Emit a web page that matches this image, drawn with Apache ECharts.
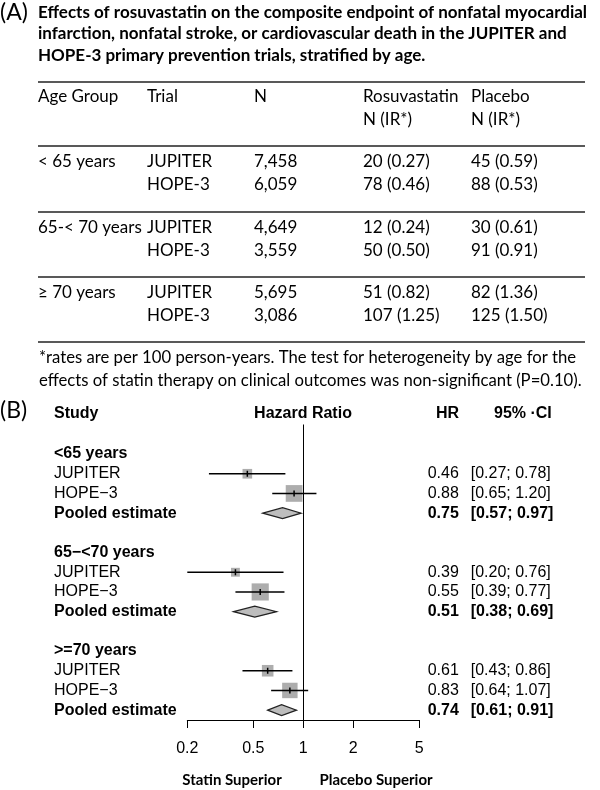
<!DOCTYPE html>
<html>
<head>
<meta charset="utf-8">
<script src="https://cdn.jsdelivr.net/npm/echarts@6/dist/echarts.min.js"></script>
<style>html,body{margin:0;padding:0;background:#fff}#c{width:600px;height:790px}</style>
</head>
<body>
<div id="c"></div>
<script>
// ---------- Panel A data ----------
const titleLines = [
  'Effects of rosuvastatin on the composite endpoint of nonfatal myocardial',
  'infarction, nonfatal stroke, or cardiovascular death in the JUPITER and',
  'HOPE-3 primary prevention trials, stratified by age.'
];
const tableHeader1 = ['Age Group', 'Trial', 'N', 'Rosuvastatin', 'Placebo'];
const tableHeader2 = ['', '', '', 'N (IR*)', 'N (IR*)'];
const ageGroups = ['< 65 years', '65-< 70 years', '\u2265 70 years'];
const trials = ['JUPITER', 'HOPE-3'];
const nValues = ['7,458', '6,059', '4,649', '3,559', '5,695', '3,086'];
const rosuEvents = ['20 (0.27)', '78 (0.46)', '12 (0.24)', '50 (0.50)', '51 (0.82)', '107 (1.25)'];
const placeboEvents = ['45 (0.59)', '88 (0.53)', '30 (0.61)', '91 (0.91)', '82 (1.36)', '125 (1.50)'];
const footnote = [
  '*rates are per 100 person-years. The test for heterogeneity by age for the',
  'effects of statin therapy on clinical outcomes was non-significant (P=0.10).'
];

// ---------- Panel B data ----------
const forestGroups = ['<65 years', '65\u2212<70 years', '>=70 years'];
const studies = ['JUPITER', 'HOPE\u22123'];
const studyHR = [0.46, 0.88, 0.39, 0.55, 0.61, 0.83];
const studyLo = [0.27, 0.65, 0.20, 0.39, 0.43, 0.64];
const studyHi = [0.78, 1.20, 0.76, 0.77, 0.86, 1.07];
const studyWeightPct = [25, 75, 21, 79, 36, 64];
const pooledHR = [0.75, 0.51, 0.74];
const pooledLo = [0.57, 0.38, 0.61];
const pooledHi = [0.97, 0.69, 0.91];
const xTicks = [0.2, 0.5, 1, 2, 5];
const xTickLabels = ['0.2', '0.5', '1', '2', '5'];

// ---------- build ----------
const L10 = Math.log10;
const fmt2 = v => v.toFixed(2);

const rows = [];
rows.push({label: '', type: 'blank', right: ''});
forestGroups.forEach((g, gi) => {
  if (gi > 0) rows.push({label: '', type: 'blank', right: ''});
  rows.push({label: g, type: 'group', right: ''});
  studies.forEach((s, si) => {
    const k = gi * 2 + si;
    rows.push({label: s, type: 'study', k: k,
      right: '{h|' + fmt2(studyHR[k]) + '}{c|[' + fmt2(studyLo[k]) + '; ' + fmt2(studyHi[k]) + ']}'});
  });
  rows.push({label: 'Pooled estimate', type: 'pooled', k: gi,
    right: '{hb|' + fmt2(pooledHR[gi]) + '}{cb|[' + fmt2(pooledLo[gi]) + '; ' + fmt2(pooledHi[gi]) + ']}'});
});
const rowKeys = rows.map((r, i) => 'r' + i);

const studyData = [];
const pooledData = [];
rows.forEach((r, i) => {
  if (r.type === 'study') studyData.push([L10(studyHR[r.k]), i, L10(studyLo[r.k]), L10(studyHi[r.k]), studyWeightPct[r.k]]);
  if (r.type === 'pooled') pooledData.push([L10(pooledHR[r.k]), i, L10(pooledLo[r.k]), L10(pooledHi[r.k])]);
});

const FA = '"Lato", "Open Sans", sans-serif';       // Calibri-like
const FB = '"Liberation Sans", Arial, sans-serif';   // Arial-like

const graphics = [];
function txt(x, y, text, font, align) {
  graphics.push({type: 'text', x: x, y: y, silent: true,
    style: {text: text, font: font, fill: '#000', textAlign: align || 'left', textVerticalAlign: 'middle'}});
}
function rule(y) {
  graphics.push({type: 'line', silent: true, shape: {x1: 38, y1: y, x2: 585, y2: y},
    style: {stroke: '#222', lineWidth: 1.5}});
}

// Panel A
const TF = '17px ' + FA;
txt(0, 13, '(A)', '23px ' + FA);
titleLines.forEach((t, i) => txt(38, 12.5 + i * 21.5, t, 'bold 17px ' + FA));
rule(82);
const colX = [38, 147, 254, 363, 471];
tableHeader1.forEach((t, i) => txt(colX[i], 97, t, TF));
tableHeader2.forEach((t, i) => { if (t) txt(colX[i], 120, t, TF); });
rule(146);
const groupTop = [162, 228, 293];
const groupRule = [212, 277, 342];
ageGroups.forEach((g, gi) => {
  txt(colX[0], groupTop[gi], g, TF);
  trials.forEach((t, ti) => {
    const k = gi * 2 + ti;
    const y = groupTop[gi] + ti * 23;
    txt(colX[1], y, t, TF);
    txt(colX[2], y, nValues[k], TF);
    txt(colX[3], y, rosuEvents[k], TF);
    txt(colX[4], y, placeboEvents[k], TF);
  });
  rule(groupRule[gi]);
});
footnote.forEach((t, i) => txt(39, 358 + i * 22.5, t, '16.7px ' + FA));

// Panel B headers
txt(0, 411, '(B)', '23px ' + FA);
txt(54, 414, 'Study', 'bold 16px ' + FB);
txt(303, 414, 'Hazard Ratio', 'bold 16px ' + FB, 'center');
txt(436, 414, 'HR', 'bold 16px ' + FB);
txt(494, 414, '95% \u00b7CI', 'bold 16px ' + FB);
txt(232, 780, 'Statin Superior', 'bold 15px ' + FA, 'center');
txt(376, 780, 'Placebo Superior', 'bold 15px ' + FA, 'center');

const chart = echarts.init(document.getElementById('c'), null, {renderer: 'canvas'});
chart.setOption({
  animation: false,
  backgroundColor: '#fff',
  grid: {left: 187.3, right: 600 - 419.3, top: 424.5, bottom: 70, containLabel: false},
  xAxis: {
    type: 'value', min: L10(0.2), max: L10(5),
    splitLine: {show: false},
    axisLine: {show: true, onZero: false, lineStyle: {color: '#000', width: 1}},
    axisTick: {show: true, length: 8, lineStyle: {color: '#000', width: 1}, customValues: xTicks.map(L10)},
    axisLabel: {show: true, margin: 21, color: '#000', fontSize: 16, fontFamily: FB,
      customValues: xTicks.map(L10),
      formatter: v => { const i = xTicks.findIndex(t => Math.abs(L10(t) - v) < 1e-6); return i >= 0 ? xTickLabels[i] : ''; }}
  },
  yAxis: [{
    type: 'category', data: rowKeys, inverse: true, boundaryGap: true,
    axisLine: {show: false}, axisTick: {show: false}, splitLine: {show: false},
    axisLabel: {show: true, interval: 0, margin: 187.3 - 54, align: 'left', fontSize: 16, fontFamily: FB, color: '#000',
      formatter: (v, i) => { const r = rows[i]; if (!r || !r.label) return ''; return (r.type === 'group' || r.type === 'pooled') ? '{b|' + r.label + '}' : '{n|' + r.label + '}'; },
      rich: {b: {fontWeight: 'bold', fontSize: 16, fontFamily: FB, color: '#000'}, n: {fontSize: 16, fontFamily: FB, color: '#000'}}}
  }, {
    type: 'category', data: rowKeys, inverse: true, boundaryGap: true, position: 'right',
    axisLine: {show: false}, axisTick: {show: false}, splitLine: {show: false},
    axisLabel: {show: true, interval: 0, margin: 8.4, align: 'left', fontSize: 16, fontFamily: FB, color: '#000',
      formatter: (v, i) => rows[i] ? rows[i].right : '',
      rich: {
        h: {width: 43, fontSize: 16, fontFamily: FB, color: '#000'},
        c: {fontSize: 16, fontFamily: FB, color: '#000'},
        hb: {width: 43, fontSize: 16, fontFamily: FB, fontWeight: 'bold', color: '#000'},
        cb: {fontSize: 16, fontFamily: FB, fontWeight: 'bold', color: '#000'}
      }}
  }],
  series: [{
    type: 'custom', name: 'studies', yAxisIndex: 0,
    data: studyData,
    encode: {x: 0, y: 1},
    renderItem: (params, api) => {
      const p = api.coord([api.value(0), api.value(1)]);
      const a = api.coord([api.value(2), api.value(1)]);
      const b = api.coord([api.value(3), api.value(1)]);
      const s = 1.93 * Math.sqrt(api.value(4));
      return {type: 'group', children: [
        {type: 'rect', shape: {x: p[0] - s / 2, y: p[1] - s / 2, width: s, height: s}, style: {fill: '#adadad'}},
        {type: 'line', shape: {x1: a[0], y1: a[1], x2: b[0], y2: b[1]}, style: {stroke: '#000', lineWidth: 1.6}},
        {type: 'line', shape: {x1: p[0], y1: p[1] - 3, x2: p[0], y2: p[1] + 3}, style: {stroke: '#000', lineWidth: 1.5}}
      ]};
    },
    markLine: {silent: true, symbol: 'none', label: {show: false},
      lineStyle: {color: '#000', width: 1, type: 'solid'}, data: [{xAxis: 0}]}
  }, {
    type: 'custom', name: 'pooled', yAxisIndex: 0,
    data: pooledData,
    encode: {x: 0, y: 1},
    renderItem: (params, api) => {
      const p = api.coord([api.value(0), api.value(1)]);
      const a = api.coord([api.value(2), api.value(1)]);
      const b = api.coord([api.value(3), api.value(1)]);
      const h = 5.5;
      return {type: 'polygon', shape: {points: [[a[0], a[1]], [p[0], p[1] - h], [b[0], b[1]], [p[0], p[1] + h]]},
        style: {fill: '#bdbdbd', stroke: '#222', lineWidth: 1.2}};
    }
  }],
  graphic: graphics
});
</script>
</body>
</html>
